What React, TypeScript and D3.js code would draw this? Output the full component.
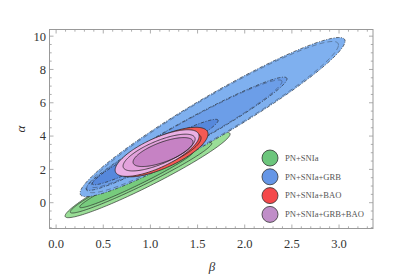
import React from 'react';
import * as d3 from 'd3';

// confidence regions, outer (3 sigma) to inner (1 sigma)
// each: centre beta, centre alpha, half extent in beta, half extent in alpha, correlation
type Region = { b: number; a: number; sb: number; sa: number; rho: number };

const snIaRegions: Region[] = [
  { b: 0.97, a: 1.66, sb: 0.875, sa: 2.56, rho: 0.96 },
  { b: 0.9, a: 1.5, sb: 0.75, sa: 2.12, rho: 0.97 },
  { b: 0.85, a: 1.38, sb: 0.6, sa: 1.68, rho: 0.975 },
];

const grbRegions: Region[] = [
  { b: 1.659, a: 5.14, sb: 1.405, sa: 4.78, rho: 0.954 },
  { b: 1.383, a: 4.14, sb: 1.065, sa: 3.4, rho: 0.969 },
  { b: 1.05, a: 3.04, sb: 0.668, sa: 1.965, rho: 0.962 },
];

const baoRegions: Region[] = [
  { b: 1.134, a: 3.04, sb: 0.477, sa: 1.488, rho: 0.727 },
  { b: 1.134, a: 3.04, sb: 0.403, sa: 1.146, rho: 0.733 },
  { b: 1.134, a: 3.04, sb: 0.307, sa: 0.848, rho: 0.707 },
];

const allRegions: Region[] = [
  { b: 1.071, a: 2.98, sb: 0.445, sa: 1.4, rho: 0.728 },
  { b: 1.092, a: 3.01, sb: 0.382, sa: 1.104, rho: 0.734 },
  { b: 1.134, a: 3.04, sb: 0.318, sa: 0.87, rho: 0.69 },
];

const seriesNames = ['PN+SNIa', 'PN+SNIa+GRB', 'PN+SNIa+BAO', 'PN+SNIa+GRB+BAO'];
const legendColors = ['#6cc67c', '#6596e6', '#f4484a', '#c08ec8'];

const xTicks = [0, 0.5, 1, 1.5, 2, 2.5, 3];
const yTicks = [0, 2, 4, 6, 8, 10];

const series = [
  {
    regions: snIaRegions,
    fills: ['#9ade97', '#88d48a', '#77cb7d'],
    dash: null as string | null,
  },
  {
    regions: grbRegions,
    fills: ['#7fb0ef', '#6c9ee8', '#5688dc'],
    dash: '3.5,1.5,1,1.5',
  },
  {
    regions: baoRegions,
    fills: ['#f45a54', '#f04a4a', '#e83e42'],
    dash: null,
  },
  {
    regions: allRegions,
    fills: ['#ebb0e4', '#e3a2dc', '#c682c4'],
    dash: null,
  },
];

export default function App() {
  const width = 415;
  const height = 280;
  const frame = { left: 49.5, right: 373, top: 29.5, bottom: 228.5 };

  const x = d3.scaleLinear().domain([-0.07, 3.36]).range([frame.left, frame.right]);
  const y = d3.scaleLinear().domain([-1.55, 10.4]).range([frame.bottom, frame.top]);

  // closed outline of a correlated ellipse, optionally shrunk toward its centre
  const outline = (r: Region, k = 1) => {
    const pts: [number, number][] = d3.range(0, 2 * Math.PI, Math.PI / 90).map((t) => [
      x(r.b + k * r.sb * Math.cos(t)),
      y(r.a + k * r.sa * (r.rho * Math.cos(t) + Math.sqrt(1 - r.rho * r.rho) * Math.sin(t))),
    ]);
    return d3.line().curve(d3.curveLinearClosed)(pts) || '';
  };

  const xMinor = d3.range(0, 3.36, 0.1);
  const yMinor = d3.range(-1.5, 10.41, 0.5);
  const tickColor = '#999999';
  const serif = '"Liberation Serif", "DejaVu Serif", serif';

  return (
    <svg
      width={width}
      height={height}
      style={{ position: 'absolute', left: 0, top: 0, background: '#ffffff' }}
      fontFamily={serif}
    >
      <defs>
        <clipPath id="plot-area">
          <rect
            x={frame.left}
            y={frame.top}
            width={frame.right - frame.left}
            height={frame.bottom - frame.top}
          />
        </clipPath>
      </defs>

      <g clipPath="url(#plot-area)">
        {series.map((s, si) => (
          <g key={si}>
            {s.regions.map((r, ri) => (
              <path key={'f' + ri} d={outline(r)} fill={s.fills[ri]} stroke="none" />
            ))}
            {s.regions.map((r, ri) => (
              <path
                key={'l' + ri}
                d={outline(r)}
                fill="none"
                stroke="#222222"
                strokeOpacity={0.85}
                strokeWidth={si >= 2 ? 0.9 : 0.75}
                strokeDasharray={s.dash || undefined}
              />
            ))}
            {/* the extra thin contour drawn just inside each of the GRB levels */}
            {s.dash &&
              s.regions.slice(0, 2).map((r, ri) => (
                <path
                  key={'e' + ri}
                  d={outline(r, 0.95)}
                  fill="none"
                  stroke="#222222"
                  strokeOpacity={0.6}
                  strokeWidth={0.6}
                  strokeDasharray="5,3"
                />
              ))}
          </g>
        ))}
      </g>

      {/* frame */}
      <rect
        x={frame.left}
        y={frame.top}
        width={frame.right - frame.left}
        height={frame.bottom - frame.top}
        fill="none"
        stroke={tickColor}
        strokeWidth={1}
      />

      {/* x ticks, bottom and top */}
      {xMinor.map((v, i) => {
        const major = xTicks.some((t) => Math.abs(t - v) < 1e-6);
        const len = major ? 4 : 2.2;
        return (
          <g key={'xt' + i} stroke={tickColor} strokeWidth={0.8}>
            <line x1={x(v)} x2={x(v)} y1={frame.bottom} y2={frame.bottom - len} />
            <line x1={x(v)} x2={x(v)} y1={frame.top} y2={frame.top + len} />
          </g>
        );
      })}
      {yMinor.map((v, i) => {
        const major = yTicks.some((t) => Math.abs(t - v) < 1e-6);
        const len = major ? 4 : 2.2;
        return (
          <g key={'yt' + i} stroke={tickColor} strokeWidth={0.8}>
            <line x1={frame.left} x2={frame.left + len} y1={y(v)} y2={y(v)} />
            <line x1={frame.right} x2={frame.right - len} y1={y(v)} y2={y(v)} />
          </g>
        );
      })}

      {xTicks.map((t) => (
        <text
          key={'xl' + t}
          x={x(t)}
          y={frame.bottom + 19.5}
          textAnchor="middle"
          fontSize={12.5}
          fill="#333333"
        >
          {d3.format('.1f')(t)}
        </text>
      ))}
      {yTicks.map((t) => (
        <text
          key={'yl' + t}
          x={frame.left - 3.5}
          y={y(t)}
          dy="0.35em"
          textAnchor="end"
          fontSize={12.5}
          fill="#333333"
        >
          {t}
        </text>
      ))}

      <text
        x={212}
        y={271}
        textAnchor="middle"
        fontSize={13}
        fontStyle="italic"
        fill="#333333"
      >
        β
      </text>
      <text
        transform={`translate(25,${(frame.top + frame.bottom) / 2}) rotate(-90)`}
        textAnchor="middle"
        fontSize={13}
        fontStyle="italic"
        fill="#333333"
      >
        α
      </text>

      {/* legend */}
      {seriesNames.map((name, i) => (
        <g key={name} transform={`translate(270,${158 + i * 18.8})`}>
          <circle r={8} fill={legendColors[i]} stroke="#333333" strokeWidth={0.8} />
          <text x={15} y={0} dy="0.33em" fontSize={8.6} fill="#555555">
            {name}
          </text>
        </g>
      ))}
    </svg>
  );
}
